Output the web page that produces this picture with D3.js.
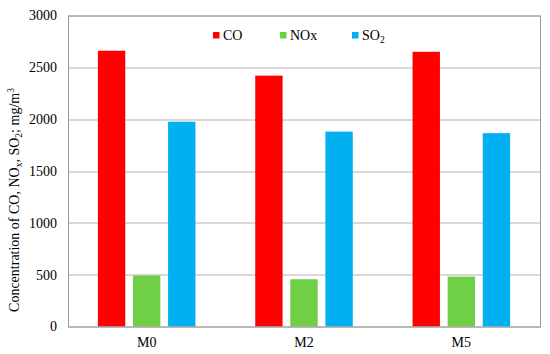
<!DOCTYPE html>
<html>
<head>
<meta charset="utf-8">
<script src="https://cdn.jsdelivr.net/npm/d3@7"></script>
<style>
  body { margin: 0; background: #fff; }
  svg text { font-family: "Liberation Serif", "Times New Roman", serif; fill: #000; }
</style>
</head>
<body>
<div id="chart"></div>
<script>
// data
var samples = ['M0', 'M2', 'M5'];
var gases = ['CO', 'NOx', 'SO2'];
var coValues = [2660, 2420, 2650];
var noxValues = [492, 456, 481];
var so2Values = [1975, 1880, 1865];
var yTicks = [0, 500, 1000, 1500, 2000, 2500, 3000];

var colors = { CO: '#ff0000', NOx: '#6fcf45', SO2: '#00b0f0' };
var seriesValues = { CO: coValues, NOx: noxValues, SO2: so2Values };

var width = 550, height = 354;
var margin = { left: 68, top: 15.5, right: 10, bottom: 27.5 };
var plotW = width - margin.left - margin.right;
var plotH = height - margin.top - margin.bottom;

var svg = d3.select('#chart').append('svg')
  .attr('width', width)
  .attr('height', height);

var x0 = d3.scaleBand().domain(samples).range([0, plotW]).paddingInner(0.38).paddingOuter(0.19);
var x1 = d3.scaleBand().domain(gases).range([0, x0.bandwidth()]).paddingInner(0.22).paddingOuter(0);
var y = d3.scaleLinear().domain([0, 3000]).range([plotH, 0]);

var g = svg.append('g').attr('transform', 'translate(' + margin.left + ',' + margin.top + ')');

// gridlines
g.append('g')
  .selectAll('line')
  .data(yTicks)
  .enter()
  .append('line')
  .attr('x1', 0).attr('x2', plotW)
  .attr('y1', function(d){ return Math.round(y(d)) + 0.5; })
  .attr('y2', function(d){ return Math.round(y(d)) + 0.5; })
  .style('stroke', '#b4b4b4')
  .style('stroke-width', 1);

// bars
var groups = g.selectAll('g.grp')
  .data(samples)
  .enter()
  .append('g')
  .attr('class', 'grp')
  .attr('transform', function(d){ return 'translate(' + x0(d) + ',0)'; });

groups.selectAll('rect')
  .data(function(d, i){
    return gases.map(function(k){ return { key: k, value: seriesValues[k][i] }; });
  })
  .enter()
  .append('rect')
  .attr('x', function(d){ return x1(d.key); })
  .attr('width', x1.bandwidth())
  .attr('y', function(d){ return y(d.value); })
  .attr('height', function(d){ return plotH - y(d.value); })
  .style('fill', function(d){ return colors[d.key]; });

// plot border
g.append('rect')
  .attr('x', 0.5).attr('y', 0.5)
  .attr('width', plotW).attr('height', plotH)
  .style('fill', 'none')
  .style('stroke', '#9a9a9a')
  .style('stroke-width', 1);

// y tick labels
var yAxis = d3.axisLeft(y).tickValues(yTicks).tickFormat(d3.format('d')).tickSize(0).tickPadding(11);
var ya = g.append('g').call(yAxis);
ya.select('.domain').remove();
ya.selectAll('text')
  .style('font-family', '"Liberation Serif", serif')
  .style('font-size', '14px');

// x tick labels
var xAxis = d3.axisBottom(x0).tickSize(0).tickPadding(11);
var xa = g.append('g').attr('transform', 'translate(0,' + plotH + ')').call(xAxis);
xa.select('.domain').remove();
xa.selectAll('text')
  .style('font-family', '"Liberation Serif", serif')
  .style('font-size', '14px');

// y axis title
var title = svg.append('text')
  .attr('transform', 'translate(19,200) rotate(-90)')
  .attr('text-anchor', 'middle')
  .style('font-size', '14px');
title.append('tspan').text('Concentration of CO, NO');
title.append('tspan').text('x').style('font-size', '9.5px').attr('dy', 3);
title.append('tspan').text(', SO').style('font-size', '14px').attr('dy', -3);
title.append('tspan').text('2').style('font-size', '9.5px').attr('dy', 3);
title.append('tspan').text('; mg/m').style('font-size', '14px').attr('dy', -3);
title.append('tspan').text('3').style('font-size', '9.5px').attr('dy', -5);

// legend
var legendX = [213, 280, 352];
var legend = svg.append('g');
gases.forEach(function(k, i){
  var item = legend.append('g').attr('transform', 'translate(' + legendX[i] + ',32)');
  item.append('rect')
    .attr('width', 6.5).attr('height', 6.5)
    .style('fill', colors[k]);
  var t = item.append('text')
    .attr('x', 10).attr('y', 7.5)
    .style('font-size', '14px');
  if (k === 'SO2') {
    t.append('tspan').text('SO');
    t.append('tspan').text('2').style('font-size', '9.5px').attr('dy', 3);
  } else {
    t.text(k);
  }
});
</script>
</body>
</html>
